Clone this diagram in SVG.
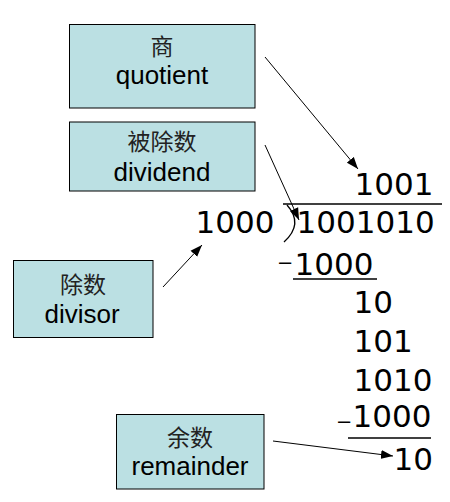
<svg xmlns="http://www.w3.org/2000/svg" width="450" height="502" viewBox="0 0 450 502">
<style>
.box{fill:#bbe0e3;stroke:#000;stroke-width:1}
.cn{font-family:"Noto Sans CJK SC","Noto Sans",sans-serif;font-size:23px;fill:#222;text-anchor:middle}
.en{font-family:"Liberation Sans",Arial,sans-serif;font-size:26px;fill:#000;text-anchor:middle}
.num{font-family:"DejaVu Sans",sans-serif;font-size:31px;fill:#000}
.minus{font-family:"Liberation Sans",Arial,sans-serif;font-size:22px;fill:#000}
.rule{stroke:#000;stroke-width:1.3;fill:none}
.conn{stroke:#000;stroke-width:1;fill:none;marker-end:url(#ah)}
</style>
<defs>
<marker id="ah" markerUnits="userSpaceOnUse" markerWidth="12" markerHeight="10" viewBox="0 0 12 10" refX="12" refY="5" orient="auto">
<path d="M0,0.5 L12,5 L0,9.5 Z" fill="#000"/>
</marker>
</defs>
<rect width="450" height="502" fill="#fff"/>
<g id="quotient">
<rect class="box" x="69.5" y="24.5" width="185.5" height="83.5"/>
<text class="cn" x="162" y="55" font-size="22">商</text>
<text class="en" x="162" y="84">quotient</text>
</g>
<g id="dividend">
<rect class="box" x="69.5" y="122" width="185.5" height="69"/>
<text class="cn" x="162" y="150">被除数</text>
<text class="en" x="162" y="181">dividend</text>
</g>
<g id="divisor">
<rect class="box" x="13.5" y="260.5" width="139.5" height="77"/>
<text class="cn" x="83" y="293">除数</text>
<text class="en" x="82" y="323">divisor</text>
</g>
<g id="remainder">
<rect class="box" x="116.5" y="414.5" width="147.5" height="74.5"/>
<text class="cn" x="190" y="446">余数</text>
<text class="en" x="190" y="475">remainder</text>
</g>
<g id="division">
<text class="num" x="354.6" y="195">1001</text>
<line class="rule" x1="283" y1="204" x2="442" y2="204"/>
<text class="num" x="195.6" y="233">1000</text>
<path class="rule" d="M287 205 Q304 224 284 242" stroke-width="1"/>
<text class="num" x="296.6" y="233">1001010</text>
<text class="minus" x="279" y="269">–</text>
<text class="num" x="294.6" y="275">1000</text>
<line class="rule" x1="293" y1="279" x2="377" y2="279"/>
<text class="num" x="353.6" y="313">10</text>
<text class="num" x="353.6" y="352">101</text>
<text class="num" x="353.6" y="391">1010</text>
<text class="minus" x="338" y="428">–</text>
<text class="num" x="352.5" y="427">1000</text>
<line class="rule" x1="348" y1="438" x2="431" y2="438"/>
<text class="num" x="393.6" y="470">10</text>
</g>
<g id="connectors">
<line class="conn" x1="265" y1="57" x2="358" y2="169"/>
<line class="conn" x1="265" y1="145" x2="299" y2="220"/>
<line class="conn" x1="163" y1="287" x2="202" y2="245"/>
<line class="conn" x1="273" y1="441" x2="393" y2="456"/>
</g>
</svg>
